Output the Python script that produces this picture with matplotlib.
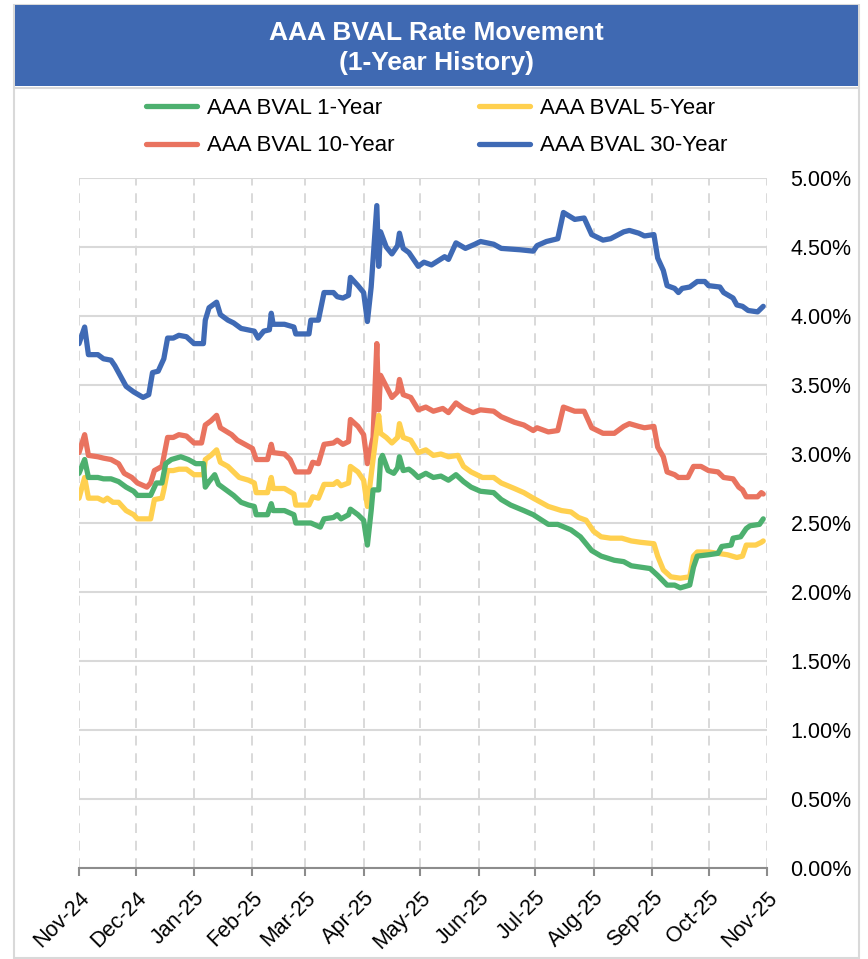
import numpy as np
import pandas as pd
import matplotlib
matplotlib.use("Agg")
import matplotlib.pyplot as plt
from matplotlib.patches import Rectangle
from matplotlib.lines import Line2D

plt.rcParams['font.family'] = ['Liberation Sans', 'DejaVu Sans']

# day offsets from 2024-11-01 and yields (%)
start = np.datetime64('2024-11-01')

days_30y = [0, 3, 5, 10, 13, 17, 19, 21, 25, 29, 34, 37, 39, 42, 45, 47, 50, 53, 57, 61, 66, 67, 69, 73, 75,
            79, 82, 86, 93, 95, 98, 101, 102, 103, 109, 114, 115, 122, 123, 127, 130, 135, 137, 140, 143, 144,
            148, 151, 153, 155, 158, 159, 160, 163, 166, 169, 170, 172, 175, 180, 183, 187, 194, 196, 200, 205,
            210, 213, 220, 224, 234, 241, 243, 248, 254, 257, 263, 268, 272, 278, 282, 289, 292, 297, 300, 305,
            307, 310, 312, 316, 318, 320, 324, 328, 332, 334, 340, 342, 347, 349, 352, 355, 360, 363]
vals_30y = [3.80, 3.92, 3.72, 3.72, 3.69, 3.68, 3.64, 3.59, 3.49, 3.45, 3.41, 3.43, 3.59, 3.60, 3.69, 3.84, 3.84,
            3.86, 3.85, 3.80, 3.80, 3.97, 4.06, 4.10, 4.01, 3.97, 3.95, 3.91, 3.89, 3.84, 3.89, 3.90, 4.02, 3.94,
            3.94, 3.92, 3.87, 3.87, 3.97, 3.97, 4.17, 4.17, 4.14, 4.13, 4.15, 4.28, 4.22, 4.17, 3.96, 4.21, 4.80,
            4.36, 4.61, 4.50, 4.45, 4.51, 4.60, 4.49, 4.46, 4.36, 4.39, 4.37, 4.43, 4.41, 4.53, 4.49, 4.52, 4.54,
            4.52, 4.49, 4.48, 4.47, 4.51, 4.54, 4.56, 4.75, 4.70, 4.71, 4.59, 4.55, 4.56, 4.61, 4.62, 4.60, 4.58,
            4.59, 4.42, 4.33, 4.22, 4.20, 4.17, 4.20, 4.21, 4.25, 4.25, 4.22, 4.21, 4.17, 4.13, 4.08, 4.07, 4.04,
            4.03, 4.07]

days_10y = [0, 3, 5, 10, 13, 17, 21, 24, 28, 31, 36, 38, 40, 44, 45, 47, 50, 53, 57, 61, 65, 67, 70, 73, 75, 81,
            84, 88, 92, 94, 100, 102, 103, 109, 112, 115, 122, 124, 127, 130, 135, 137, 140, 143, 144, 148, 151,
            153, 156, 158, 159, 160, 163, 166, 169, 170, 172, 176, 180, 184, 188, 193, 196, 200, 204, 209, 213,
            220, 224, 231, 236, 241, 243, 249, 254, 257, 263, 268, 272, 278, 284, 289, 292, 297, 300, 305, 307,
            310, 312, 316, 318, 323, 326, 330, 334, 339, 342, 347, 350, 352, 354, 360, 362, 363]
vals_10y = [3.01, 3.14, 2.99, 2.98, 2.97, 2.96, 2.93, 2.86, 2.83, 2.79, 2.76, 2.79, 2.88, 2.91, 2.98, 3.12, 3.12,
            3.14, 3.13, 3.08, 3.08, 3.21, 3.24, 3.28, 3.19, 3.14, 3.10, 3.07, 3.04, 2.96, 2.96, 3.07, 3.01, 3.00,
            2.96, 2.87, 2.87, 2.94, 2.93, 3.07, 3.08, 3.10, 3.07, 3.09, 3.25, 3.20, 3.14, 2.93, 3.12, 3.80, 3.32,
            3.57, 3.49, 3.41, 3.45, 3.54, 3.43, 3.41, 3.32, 3.34, 3.31, 3.33, 3.30, 3.37, 3.33, 3.30, 3.32, 3.31,
            3.27, 3.23, 3.21, 3.17, 3.19, 3.16, 3.17, 3.34, 3.31, 3.31, 3.19, 3.15, 3.15, 3.20, 3.22, 3.20, 3.19,
            3.20, 3.05, 2.98, 2.87, 2.85, 2.83, 2.83, 2.91, 2.91, 2.88, 2.87, 2.83, 2.82, 2.76, 2.74, 2.69, 2.69,
            2.72, 2.71]

days_5y = [0, 3, 5, 10, 13, 15, 18, 21, 25, 29, 31, 38, 40, 44, 45, 47, 50, 53, 57, 61, 66, 67, 70, 73, 75, 79,
           82, 85, 90, 93, 94, 100, 102, 103, 109, 114, 115, 122, 124, 127, 130, 135, 137, 139, 143, 144, 148, 151,
           153, 156, 159, 160, 163, 166, 169, 170, 172, 176, 180, 184, 188, 192, 196, 201, 204, 208, 214, 220, 224,
           231, 236, 241, 249, 256, 261, 265, 269, 273, 277, 282, 288, 293, 298, 305, 307, 310, 314, 319, 324, 326,
           328, 334, 339, 344, 349, 352, 354, 359, 362, 363]
vals_5y = [2.68, 2.83, 2.68, 2.68, 2.66, 2.68, 2.65, 2.65, 2.59, 2.56, 2.53, 2.53, 2.67, 2.68, 2.74, 2.88, 2.88,
           2.89, 2.89, 2.85, 2.85, 2.96, 2.99, 3.03, 2.94, 2.91, 2.87, 2.83, 2.81, 2.79, 2.72, 2.72, 2.83, 2.75,
           2.75, 2.71, 2.63, 2.63, 2.69, 2.68, 2.78, 2.78, 2.80, 2.77, 2.79, 2.91, 2.87, 2.81, 2.62, 2.96, 3.28,
           3.15, 3.12, 3.08, 3.12, 3.22, 3.12, 3.10, 3.01, 3.03, 2.99, 3.00, 2.98, 2.99, 2.91, 2.87, 2.83, 2.83,
           2.79, 2.75, 2.72, 2.68, 2.62, 2.59, 2.58, 2.54, 2.52, 2.44, 2.40, 2.39, 2.39, 2.37, 2.36, 2.35, 2.26,
           2.16, 2.11, 2.10, 2.11, 2.26, 2.29, 2.29, 2.28, 2.27, 2.25, 2.26, 2.34, 2.34, 2.36, 2.37]

days_1y = [0, 3, 5, 10, 13, 17, 21, 25, 29, 31, 38, 41, 44, 46, 49, 54, 58, 62, 66, 67, 69, 72, 74, 79, 82, 86,
           90, 93, 94, 100, 102, 103, 109, 114, 115, 121, 123, 128, 130, 135, 137, 139, 143, 144, 148, 151, 153,
           155, 156, 159, 160, 161, 164, 167, 169, 170, 172, 175, 177, 180, 184, 188, 192, 196, 200, 204, 208,
           213, 220, 224, 229, 236, 241, 249, 254, 261, 266, 272, 277, 284, 289, 293, 298, 303, 307, 312, 316,
           319, 324, 326, 328, 334, 339, 341, 346, 347, 351, 354, 356, 361, 363]
vals_1y = [2.86, 2.96, 2.83, 2.83, 2.82, 2.82, 2.80, 2.76, 2.73, 2.70, 2.70, 2.79, 2.79, 2.93, 2.96, 2.98, 2.96,
           2.93, 2.93, 2.76, 2.80, 2.85, 2.78, 2.73, 2.70, 2.65, 2.63, 2.62, 2.56, 2.56, 2.64, 2.59, 2.59, 2.56,
           2.50, 2.50, 2.50, 2.47, 2.53, 2.54, 2.56, 2.53, 2.56, 2.60, 2.56, 2.52, 2.34, 2.59, 2.74, 2.74, 2.96,
           2.99, 2.88, 2.86, 2.90, 2.98, 2.88, 2.89, 2.87, 2.83, 2.86, 2.83, 2.84, 2.81, 2.85, 2.80, 2.76, 2.73,
           2.72, 2.67, 2.63, 2.59, 2.56, 2.49, 2.49, 2.45, 2.40, 2.30, 2.26, 2.23, 2.22, 2.19, 2.18, 2.17, 2.12,
           2.05, 2.05, 2.03, 2.05, 2.18, 2.26, 2.27, 2.28, 2.33, 2.34, 2.39, 2.40, 2.46, 2.48, 2.49, 2.53]

series = [
    ("AAA BVAL 1-Year", days_1y, vals_1y, '#4DB06F'),
    ("AAA BVAL 10-Year", days_10y, vals_10y, '#E9735F'),
    ("AAA BVAL 5-Year", days_5y, vals_5y, '#FFD04F'),
    ("AAA BVAL 30-Year", days_30y, vals_30y, '#3F6AB5'),
]
draw_order = [3, 1, 2, 0]  # 30Y, 10Y, 5Y, 1Y on top

W, H = 868, 959
fig = plt.figure(figsize=(W / 100, H / 100), dpi=100)

# outer frame and title banner
fig.patches.append(Rectangle((14 / W, 1 - 958 / H), 845 / W, 953 / H, transform=fig.transFigure,
                             fill=False, edgecolor='#D9D9D9', lw=1.5))
fig.patches.append(Rectangle((15 / W, 1 - 86 / H), 843 / W, 81 / H, transform=fig.transFigure,
                             facecolor='#3F69B2', edgecolor='none'))
fig.add_artist(Line2D([15 / W, 858 / W], [1 - 88 / H] * 2, transform=fig.transFigure, color='#D9D9D9', lw=1.5))
fig.text(436 / W, 1 - 48 / H, "AAA BVAL Rate Movement\n(1-Year History)", ha='center', va='center',
         color='white', fontsize=19, fontweight='bold', linespacing=1.3)

ax = fig.add_axes([79 / W, 1 - 868 / H, 688 / W, 690 / H])
lines = {}
for i in draw_order:
    name, d, v, c = series[i]
    dates = start + np.array(d, dtype='timedelta64[D]')
    ln, = ax.plot(dates, v, color=c, lw=3.8, solid_joinstyle='round', solid_capstyle='round', label=name)
    lines[i] = ln

ax.set_ylim(0, 5)
ax.set_xlim(start, np.datetime64('2025-11-01'))
ax.set_yticks(np.arange(0, 5.01, 0.5))
ax.set_yticklabels([f"{t:.2f}%" for t in np.arange(0, 5.01, 0.5)])
months = pd.date_range('2024-11-01', '2025-11-01', freq='MS')
ax.set_xticks(months)
ax.set_xticklabels([m.strftime('%b-%y') for m in months], rotation=45, ha='right',
                   rotation_mode='anchor', fontsize=15.5)
ax.yaxis.tick_right()
ax.tick_params(axis='y', length=0, pad=17, labelsize=15.5)
ax.tick_params(axis='x', length=6, width=1.5, color='#8C8C8C', pad=8)

ax.grid(axis='y', color='#D9D9D9', lw=1.5)
ax.grid(axis='x', color='#D9D9D9', lw=1.4, ls=(0, (5, 4)))
ax.set_axisbelow(True)
for s in ['top', 'left', 'right']:
    ax.spines[s].set_visible(False)
ax.spines['bottom'].set_color('#8C8C8C')
ax.spines['bottom'].set_linewidth(1.5)

fig.legend([lines[i] for i in range(4)], [series[i][0] for i in range(4)], ncol=2,
           loc='center', bbox_to_anchor=(437 / W, 1 - 127 / H), frameon=False, fontsize=16,
           handlelength=2.3, handletextpad=0.45, columnspacing=3.8, labelspacing=0.75)

fig.savefig('out.png', dpi=100)
